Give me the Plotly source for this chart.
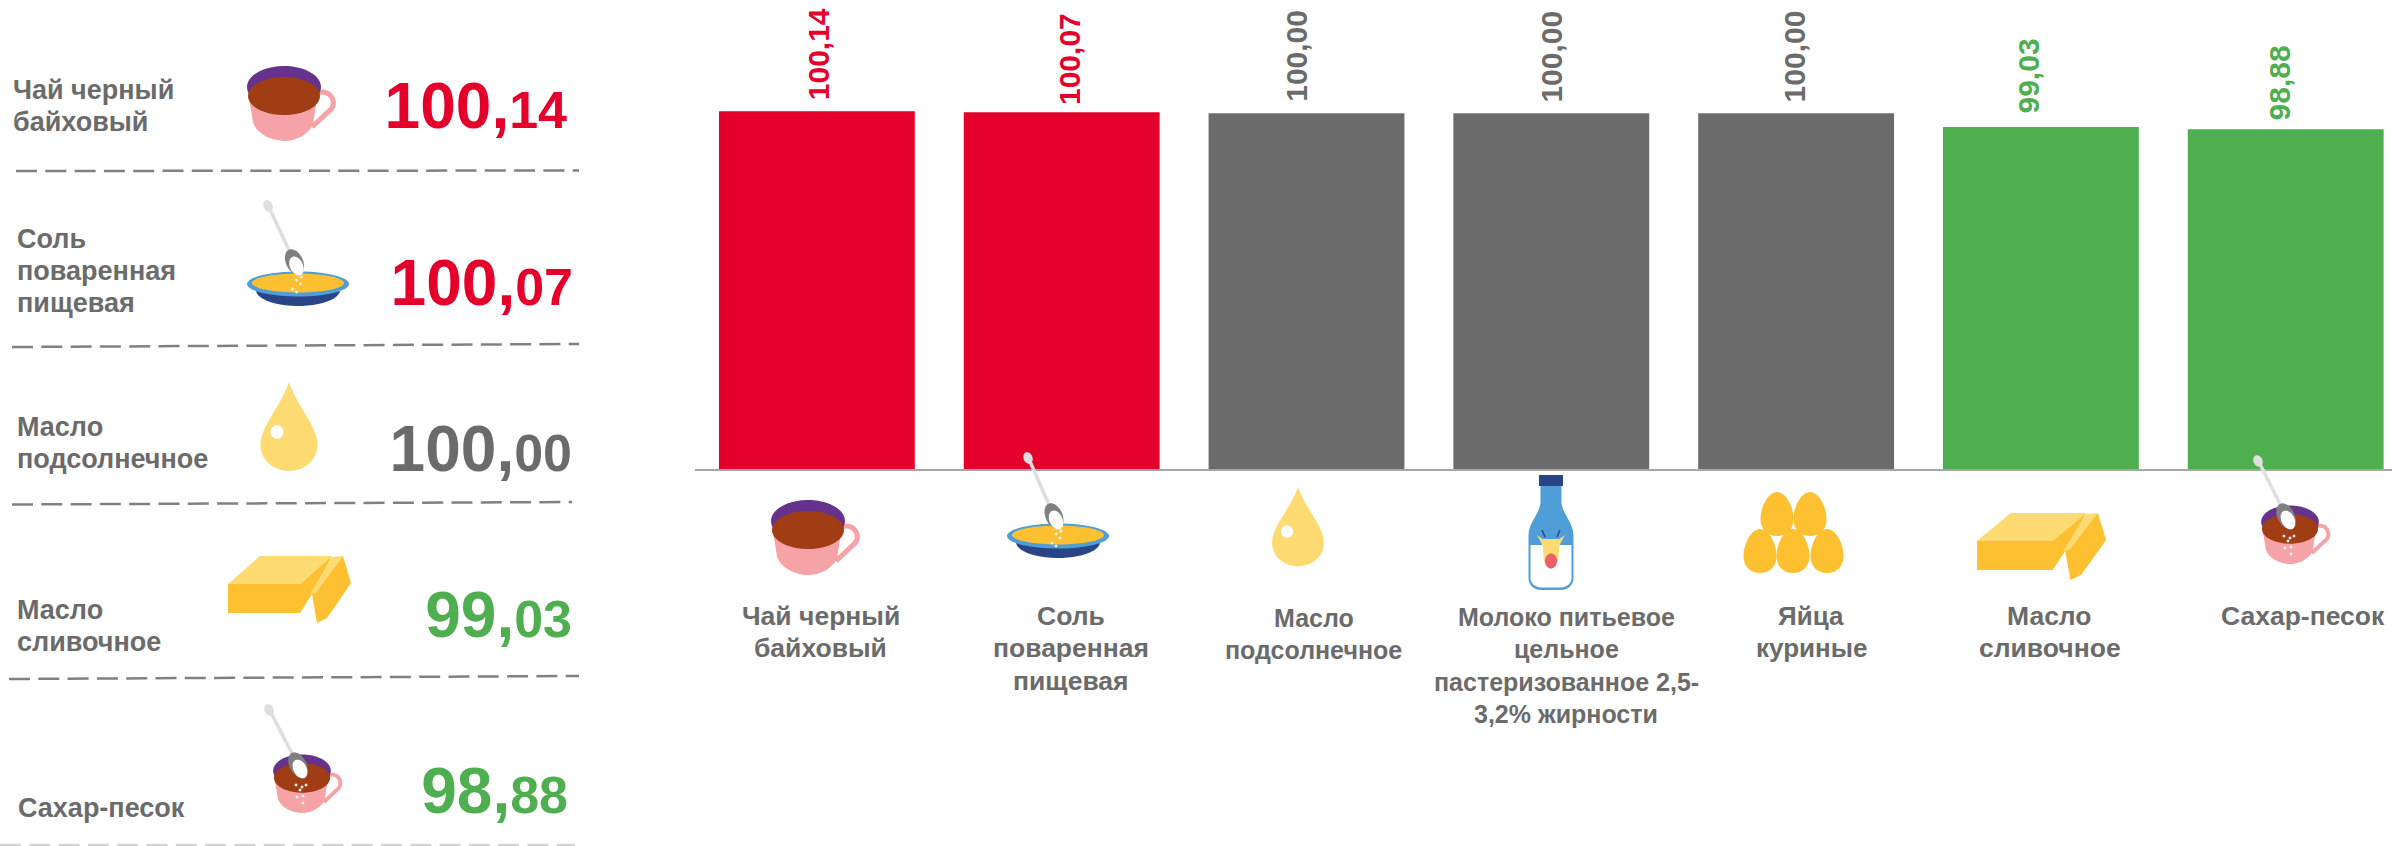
import numpy as np
import plotly.graph_objects as go

categories = ["Чай черный байховый", "Соль поваренная пищевая", "Масло подсолнечное",
              "Молоко питьевое цельное пастеризованное 2,5-3,2% жирности",
              "Яйца куриные", "Масло сливочное", "Сахар-песок"]
values = [100.14, 100.07, 100.00, 100.00, 100.00, 99.03, 98.88]
wrapped_labels = ["Чай черный<br>байховый", "Соль<br>поваренная<br>пищевая", "Масло<br>подсолнечное",
                  "Молоко питьевое<br>цельное<br>пастеризованное 2,5-<br>3,2% жирности",
                  "Яйца<br>куриные", "Масло<br>сливочное", "Сахар-песок"]
panel_names = ["Чай черный<br>байховый", "Соль<br>поваренная<br>пищевая", "Масло<br>подсолнечное",
               "Масло<br>сливочное", "Сахар-песок"]
panel_values = [100.14, 100.07, 100.00, 99.03, 98.88]

RED, GRAY, GREEN = "#E4002B", "#6B6B6B", "#4FAF50"
W, H = 2392, 846
Y0, Y_BASE, Y_100 = 75, 469, 113.3
PITCH = 244.8
LINE = 32.3
FONT = "Liberation Sans"


def colour(v):
    return RED if v > 100 else GREEN if v < 100 else GRAY


def fmt(v):
    return f"{v:.2f}".replace(".", ",")


def big(v):
    a, b = fmt(v).split(",")
    return f'{a},<span style="font-size:52px">{b}</span>'


shapes = []


def add_path(d, fill=None, line=None, lw=0, dash=None):
    s = dict(type="path", path=d, xref="x2", yref="y2", layer="above",
             fillcolor=fill if fill else "rgba(0,0,0,0)",
             line=dict(color=line if line else "rgba(0,0,0,0)", width=lw))
    if dash:
        s["line"]["dash"] = dash
    shapes.append(s)


def ellipse(cx, cy, rx, ry, fill, rot=0.0):
    t = np.linspace(0, 2 * np.pi, 48)[:-1]
    x, y = rx * np.cos(t), ry * np.sin(t)
    c, s = np.cos(rot), np.sin(rot)
    px, py = cx + x * c - y * s, cy + x * s + y * c
    d = "M" + " L".join(f"{a:.2f},{b:.2f}" for a, b in zip(px, py)) + " Z"
    add_path(d, fill)


def poly(points, ox, oy, sx, sy, fill):
    d = "M" + " L".join(f"{ox + a * sx:.2f},{oy + b * sy:.2f}" for a, b in points) + " Z"
    add_path(d, fill)


def curve(cmds, ox, oy, sx, sy, **kw):
    out = []
    for c in cmds:
        if c[0] == "Z":
            out.append("Z")
        else:
            vals = c[1:]
            pts = [f"{ox + vals[i] * sx:.2f},{oy + vals[i + 1] * sy:.2f}" for i in range(0, len(vals), 2)]
            out.append(c[0] + " ".join(pts))
    add_path(" ".join(out), **kw)


def cup(ox, oy, s=1.0):
    curve([("M", 31, -6), ("C", 46, -14, 56, 4, 44, 12), ("L", 28, 27)], ox, oy, s, s,
          line="#F5A3A6", lw=5 * s)
    curve([("M", -35, -2), ("L", -31, 22), ("C", -28, 34, -12, 41, 0, 41),
           ("C", 13, 41, 24, 34, 29, 25), ("L", 33, -2), ("Z",)], ox, oy, s, s, fill="#F5A3A6")
    ellipse(ox, oy - 13 * s, 37 * s, 21 * s, "#65338C")
    ellipse(ox, oy - 4 * s, 36 * s, 19 * s, "#A03D15")


def spoon(hx, hy, bx, by, specks):
    add_path(f"M{hx},{hy} L{bx},{by}", line="#DEDEDE", lw=3.5)
    ellipse(hx, hy + 1, 4.5, 6, "#DEDEDE", -0.4)
    rot = np.arctan2(by - hy, bx - hx)
    ellipse(bx, by, 13.5, 8.5, "#808080", rot)
    ellipse(bx + 2, by + 4, 10, 6.5, "#FFFFFF", rot)
    for dx, dy in specks:
        ellipse(bx + dx, by + dy, 1.4, 1.4, "#F4F4F4")


def plate(ox, oy):
    ellipse(ox, oy + 6, 42, 16, "#2A4488")
    ellipse(ox, oy, 51, 12.5, "#4F9ED8")
    ellipse(ox, oy - 1, 46, 9.5, "#FCC030")


def drop(ox, oy, sx, sy):
    curve([("M", 0, 0), ("C", 8, 24, 28, 44, 28.5, 62), ("C", 29, 78, 15, 89, 0, 89),
           ("C", -15, 89, -29, 78, -28.5, 62), ("C", -28, 44, -8, 24, 0, 0), ("Z",)],
          ox, oy, sx, sy, fill="#FDDB72")
    ellipse(ox - 12 * sx, oy + 50 * sy, 6.5 * sx, 7 * sy, "#FFFFFF")


def butter(ox, oy, sx=1.0):
    poly([(0, 28), (32, 0), (104, 0), (72, 28)], ox, oy, sx, 1, "#FDDB72")
    poly([(0, 28), (72, 28), (104, 0), (84, 38), (72, 57), (0, 57)], ox, oy, sx, 1, "#FCC030")
    poly([(84, 38), (115, 0), (123, 27), (99, 62), (89, 67)], ox, oy, sx, 1, "#FCC030")
    poly([(82, 38), (104, 1), (115, 0), (88, 37)], ox, oy, sx, 1, "#FDDB72")


def egg(cx, top, rx=16.5, h=44):
    curve([("M", 0, 0), ("C", 9, 0, 16.5, 15, 16.5, 27), ("C", 16.5, 38, 9, 44, 0, 44),
           ("C", -9, 44, -16.5, 38, -16.5, 27), ("C", -16.5, 15, -9, 0, 0, 0), ("Z",)],
          cx, top, rx / 16.5, h / 44, fill="#FCC030")


def bottle(cx):
    curve([("M", -10.5, 486), ("L", 10.5, 486), ("L", 10.5, 503), ("C", 12, 515, 22, 522, 22.5, 535),
           ("L", 22.5, 578), ("C", 22.5, 586, 16, 590, 10, 590), ("L", -10, 590),
           ("C", -16, 590, -22.5, 586, -22.5, 578), ("L", -22.5, 535),
           ("C", -22, 522, -12, 515, -10.5, 503), ("Z",)], cx, 0, 1, 1, fill="#4F9ED8")
    curve([("M", -20.5, 545), ("L", 20.5, 545), ("L", 20.5, 578), ("C", 20.5, 584, 15, 587.5, 10, 587.5),
           ("L", -10, 587.5), ("C", -15, 587.5, -20.5, 584, -20.5, 578), ("Z",)], cx, 0, 1, 1, fill="#FFFFFF")
    poly([(-12, 475), (12, 475), (12, 486), (-12, 486)], cx, 0, 1, 1, "#2A4488")
    add_path(f"M{cx - 6},{537} L{cx - 9},{530}", line="#2A4488", lw=1.5)
    add_path(f"M{cx + 6},{537} L{cx + 9},{530}", line="#2A4488", lw=1.5)
    poly([(-14, 535), (-7, 540), (7, 540), (14, 535), (8, 546), (-8, 546)], cx, 0, 1, 1, "#FDDB72")
    poly([(-9, 539), (9, 539), (7, 562), (-7, 562)], cx, 0, 1, 1, "#FDDB72")
    ellipse(cx, 561, 6, 7.5, "#E8606A")


# dividers in the left panel
for (x0, y0, x1, y1, c) in [(16, 171, 579, 170.5, "#808080"), (12, 347, 579, 344, "#808080"),
                            (12, 504.5, 572, 502, "#808080"), (9, 679, 579, 676, "#808080"),
                            (0, 845, 575, 845, "#D4D4D4")]:
    add_path(f"M{x0},{y0} L{x1},{y1}", line=c, lw=2.5, dash="21px,8.3px")

SALT = [(2, 18), (6, 22), (-2, 27), (2, 30), (7, 15)]
SUGAR = [(-2, 20), (4, 22), (8, 20), (-1, 32), (5, 31), (5, 38), (2, 25)]

# left-panel icons
cup(284, 100)
plate(298, 284)
spoon(268, 205, 294.5, 262, SALT)
drop(289, 382, 1, 1)
butter(228, 556)
cup(302, 781, 0.78)
spoon(269, 709, 298, 765, SUGAR)

# chart icons
cup(808, 534)
plate(1058, 536)
spoon(1028, 457, 1054, 516, SALT)
drop(1298, 487, 0.91, 0.89)
bottle(1551)
for cx in (1777, 1810):
    egg(cx, 492)
for cx in (1760, 1793, 1827):
    egg(cx, 529)
butter(1977, 513, 1.05)
cup(2290, 532, 0.78)
spoon(2258, 460, 2286, 516, SUGAR)

bar_colors = [colour(v) for v in values]
y_max = Y0 + Y_BASE * (100 - Y0) / (Y_BASE - Y_100)
x_max = -0.5 + (W - 694.5) / PITCH

fig = go.Figure()
fig.add_trace(go.Bar(x=categories, y=values, marker=dict(color=bar_colors, line=dict(width=0)),
                     width=0.8, hoverinfo="skip", showlegend=False))

name_x = [13, 17, 17, 17, 18]
name_first_y = [92, 241, 429, 612, 810]
line_x, line_y, line_text = [], [], []
for x, y, name in zip(name_x, name_first_y, panel_names):
    for i, part in enumerate(name.split("<br>")):
        line_x.append(x)
        line_y.append(y + i * LINE)
        line_text.append(part)
fig.add_trace(go.Scatter(x=line_x, y=line_y, xaxis="x2", yaxis="y2", mode="text", text=line_text,
                         textposition="middle right", hoverinfo="skip", showlegend=False,
                         textfont=dict(family=FONT, size=27, color=GRAY, weight=700)))

num_right = [567, 573, 572, 572, 568]
num_mid = [112, 289, 455, 621, 797]
fig.add_trace(go.Scatter(x=num_right, y=num_mid, xaxis="x2", yaxis="y2", mode="text",
                         text=[big(v) for v in panel_values], textposition="middle left",
                         hoverinfo="skip", showlegend=False,
                         textfont=dict(family=FONT, size=64, color=[colour(v) for v in panel_values],
                                       weight=700)))

annotations = []
label_dx = [1, 8, -10, 0, -2, -12, -6]
label_dy = [9, 5, 9, 9, 9, 12, 7]
for c, v, col, dx, dy in zip(categories, values, bar_colors, label_dx, label_dy):
    annotations.append(dict(x=c, y=v, xref="x", yref="y", text=fmt(v), textangle=-90, showarrow=False,
                            xanchor="center", yanchor="bottom", xshift=dx, yshift=dy,
                            font=dict(family=FONT, size=30, color=col, weight=700)))

cat_dx = [4, 9, 7, 15, 15, 9, 17]
cat_y = [616, 616, 618, 617, 616, 616, 616]
cat_size = [26.5, 26.5, 25, 25, 26, 26.5, 26.5]
for c, lab, dx, y, sz in zip(categories, wrapped_labels, cat_dx, cat_y, cat_size):
    for i, part in enumerate(lab.split("<br>")):
        annotations.append(dict(x=c, y=y + i * LINE, xref="x", yref="y2", text=part, showarrow=False,
                                xanchor="center", yanchor="middle", xshift=dx,
                                font=dict(family=FONT, size=sz, color=GRAY, weight=700)))

fig.update_layout(
    width=W, height=H, margin=dict(l=0, r=0, t=0, b=0), autosize=False,
    paper_bgcolor="white", plot_bgcolor="rgba(0,0,0,0)", bargap=0.2, showlegend=False,
    xaxis=dict(domain=[694.5 / W, 1], range=[-0.5, x_max], type="category", categoryorder="array",
               categoryarray=categories, showticklabels=False, ticks="", showgrid=False, zeroline=False,
               showline=True, linecolor="#A6A6A6", linewidth=2, fixedrange=True),
    yaxis=dict(domain=[(H - Y_BASE) / H, 1], range=[Y0, y_max], visible=False, showgrid=False,
               zeroline=False, fixedrange=True),
    xaxis2=dict(domain=[0, 1], range=[0, W], visible=False, anchor="y2", fixedrange=True),
    yaxis2=dict(domain=[0, 1], range=[H, 0], visible=False, anchor="x2", fixedrange=True),
    shapes=shapes, annotations=annotations,
)
fig.write_html("out.html", config=dict(displayModeBar=False),
               post_script="document.body.style.margin='0';document.documentElement.style.overflow='hidden';")
